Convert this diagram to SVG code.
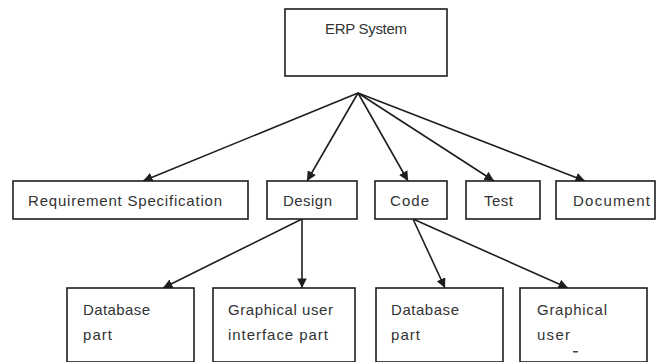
<svg xmlns="http://www.w3.org/2000/svg" width="657" height="362" viewBox="0 0 657 362">
  <style>
    .box { fill: #ffffff; stroke: #1e1e1e; stroke-width: 1.6; }
    .lbl { font-family: "Liberation Sans", Arial, sans-serif; font-size: 15px; fill: #333333; }
    .edge { stroke: #1e1e1e; stroke-width: 1.6; fill: none; marker-end: url(#arrow); }
  </style>
  <defs>
    <marker id="arrow" viewBox="0 0 10 10" refX="10" refY="5" markerWidth="6" markerHeight="6" orient="auto" markerUnits="strokeWidth">
      <path d="M0,0 L10,5 L0,10 z" fill="#1e1e1e"/>
    </marker>
  </defs>
  <rect width="657" height="362" fill="#ffffff"/>

  <!-- connectors -->
  <g id="connectors">
    <line class="edge" x1="358" y1="93" x2="143" y2="181"/>
    <line class="edge" x1="358" y1="93" x2="307" y2="181"/>
    <line class="edge" x1="358" y1="93" x2="408" y2="181"/>
    <line class="edge" x1="358" y1="93" x2="494" y2="181"/>
    <line class="edge" x1="358" y1="93" x2="585" y2="181"/>
    <line class="edge" x1="302" y1="219" x2="163" y2="288"/>
    <line class="edge" x1="302" y1="219" x2="302" y2="288"/>
    <line class="edge" x1="413" y1="219" x2="445" y2="288"/>
    <line class="edge" x1="413" y1="219" x2="568" y2="288"/>
  </g>

  <!-- root -->
  <g id="erp-system">
    <rect class="box" x="285" y="9" width="162" height="67"/>
    <text class="lbl" x="325" y="34" textLength="82" lengthAdjust="spacing">ERP System</text>
  </g>

  <!-- second level -->
  <g id="requirement-specification">
    <rect class="box" x="13" y="181" width="235" height="38"/>
    <text class="lbl" x="28" y="206" textLength="194" lengthAdjust="spacing">Requirement Specification</text>
  </g>
  <g id="design">
    <rect class="box" x="267" y="181" width="90" height="38"/>
    <text class="lbl" x="283" y="206" textLength="49" lengthAdjust="spacing">Design</text>
  </g>
  <g id="code">
    <rect class="box" x="375" y="181" width="72" height="38"/>
    <text class="lbl" x="390" y="206" textLength="39" lengthAdjust="spacing">Code</text>
  </g>
  <g id="test">
    <rect class="box" x="466" y="181" width="74" height="38"/>
    <text class="lbl" x="484" y="206" textLength="29" lengthAdjust="spacing">Test</text>
  </g>
  <g id="document">
    <rect class="box" x="556" y="181" width="99" height="38"/>
    <text class="lbl" x="573" y="206" textLength="77" lengthAdjust="spacing">Document</text>
  </g>

  <!-- third level -->
  <g id="design-database-part">
    <rect class="box" x="67" y="288" width="127" height="74"/>
    <text class="lbl" x="83" y="315" textLength="67" lengthAdjust="spacing">Database</text>
    <text class="lbl" x="83" y="340" textLength="29" lengthAdjust="spacing">part</text>
  </g>
  <g id="design-gui-part">
    <rect class="box" x="213" y="288" width="142" height="74"/>
    <text class="lbl" x="228" y="315" textLength="105" lengthAdjust="spacing">Graphical user</text>
    <text class="lbl" x="228" y="340" textLength="100" lengthAdjust="spacing">interface part</text>
  </g>
  <g id="code-database-part">
    <rect class="box" x="376" y="288" width="127" height="74"/>
    <text class="lbl" x="391" y="315" textLength="68" lengthAdjust="spacing">Database</text>
    <text class="lbl" x="391" y="340" textLength="29" lengthAdjust="spacing">part</text>
  </g>
  <g id="code-gui-part">
    <rect class="box" x="520" y="288" width="127" height="74"/>
    <text class="lbl" x="537" y="315" textLength="70" lengthAdjust="spacing">Graphical</text>
    <text class="lbl" x="537" y="340" textLength="33" lengthAdjust="spacing">user</text>
    <rect x="573" y="351" width="5" height="1.5" fill="#444444"/>
  </g>
</svg>
